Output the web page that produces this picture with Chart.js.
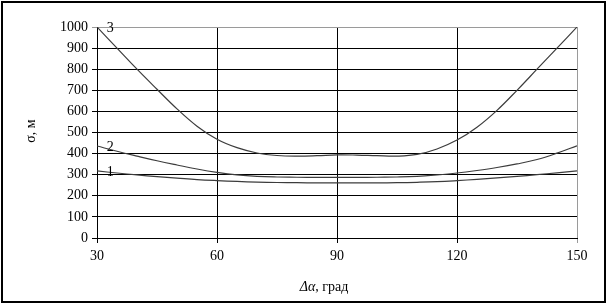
<!DOCTYPE html>
<html>
<head>
<meta charset="utf-8">
<script src="https://cdn.jsdelivr.net/npm/chart.js@4"></script>
<style>
    html, body { margin: 0; padding: 0; background: #fff; }
    #wrap { width: 607px; height: 304px; }
</style>
</head>
<body>
<div id="wrap"><canvas id="chart" width="607" height="304"></canvas></div>
<script>
// angle, degrees
const angles = [30, 35, 40, 45, 50, 55, 60, 65, 70, 75, 80, 85, 90, 95, 100, 105, 110, 115, 120, 125, 130, 135, 140, 145, 150];
// sigma, m - curve 1
const sigma1 = [318, 308, 299, 291, 284, 277, 272, 268, 265, 263, 262, 261, 261, 261, 261, 262, 264, 267, 272, 278, 285, 292, 300, 309, 318];
// curve 2
const sigma2 = [436, 411, 388, 366, 346, 327, 311, 299, 292, 289, 288, 287, 287, 287, 288, 289, 292, 299, 308, 320, 334, 351, 372, 402, 437];
// curve 3
const sigma3 = [1000, 900, 800, 705, 612, 530, 468, 428, 403, 391, 388, 390, 394, 393, 390, 388, 396, 422, 464, 525, 605, 700, 800, 900, 1000];
const curveNames = ['1', '2', '3'];
const xTicks = [30, 60, 90, 120, 150];

const serif = '"Liberation Serif", "Times New Roman", serif';

function toPoints(vals) {
    return angles.map((a, i) => ({ x: a, y: vals[i] }));
}

// frame, curve numbers and axis titles
const decorPlugin = {
    id: 'decor',
    beforeDraw(chart) {
        const c = chart.ctx;
        c.save();
        c.fillStyle = '#fff';
        c.fillRect(0, 0, chart.width, chart.height);
        c.strokeStyle = '#000';
        c.lineWidth = 2;
        c.strokeRect(2, 2, chart.width - 4, chart.height - 4);
        c.restore();
    },
    afterDraw(chart) {
        const c = chart.ctx;
        const xs = chart.scales.x, ys = chart.scales.y;
        c.save();
        c.fillStyle = '#000';
        c.font = '14px ' + serif;
        c.textAlign = 'center';
        c.textBaseline = 'middle';
        const labelY = [310, 429, 995];
        curveNames.forEach((n, i) => {
            c.fillText(n, xs.getPixelForValue(33.3), ys.getPixelForValue(labelY[i]));
        });

        // x title, first part italic
        c.textBaseline = 'middle';
        c.textAlign = 'left';
        c.font = 'italic 14px ' + serif;
        const t1 = 'Δα';
        const w1 = c.measureText(t1).width;
        c.font = '14px ' + serif;
        const t2 = ', град';
        const w2 = c.measureText(t2).width;
        const x0 = 324 - (w1 + w2) / 2;
        c.font = 'italic 14px ' + serif;
        c.fillText(t1, x0, 287);
        c.font = '14px ' + serif;
        c.fillText(t2, x0 + w1, 287);

        // y title
        c.translate(31, 131);
        c.rotate(-Math.PI / 2);
        c.textAlign = 'center';
        c.fillText('σ, м', 0, 0);
        c.restore();
    }
};

const ctx = document.getElementById('chart').getContext('2d');
new Chart(ctx, {
    type: 'line',
    data: {
        datasets: [sigma1, sigma2, sigma3].map((vals, i) => ({
            label: curveNames[i],
            data: toPoints(vals),
            borderColor: '#3c3c3c',
            borderWidth: 1.2,
            pointRadius: 0,
            fill: false,
            tension: 0.4
        }))
    },
    options: {
        responsive: false,
        animation: false,
        events: [],
        layout: { padding: { top: 27, right: 30, left: 0, bottom: 0 } },
        plugins: {
            legend: { display: false },
            tooltip: { enabled: false }
        },
        scales: {
            x: {
                type: 'linear',
                min: 30,
                max: 150,
                afterBuildTicks: s => { s.ticks = xTicks.map(v => ({ value: v })); },
                afterFit: s => { s.height = 66; },
                ticks: {
                    color: '#000',
                    font: { family: serif, size: 14 },
                    padding: 5,
                    maxRotation: 0,
                    callback: v => String(v)
                },
                grid: {
                    color: c => c.tick && c.tick.value === 150 ? '#9a9a9a' : '#000',
                    lineWidth: 1,
                    tickLength: 5
                },
                border: { color: '#000', width: 1 }
            },
            y: {
                min: 0,
                max: 1000,
                afterFit: s => { s.width = 97; },
                ticks: {
                    stepSize: 100,
                    color: '#000',
                    font: { family: serif, size: 14 },
                    padding: 4,
                    callback: v => String(v)
                },
                grid: {
                    color: c => c.tick && c.tick.value === 1000 ? '#9a9a9a' : '#000',
                    lineWidth: 1,
                    tickLength: 5
                },
                border: { color: '#000', width: 1 }
            }
        }
    },
    plugins: [decorPlugin]
});
</script>
</body>
</html>
